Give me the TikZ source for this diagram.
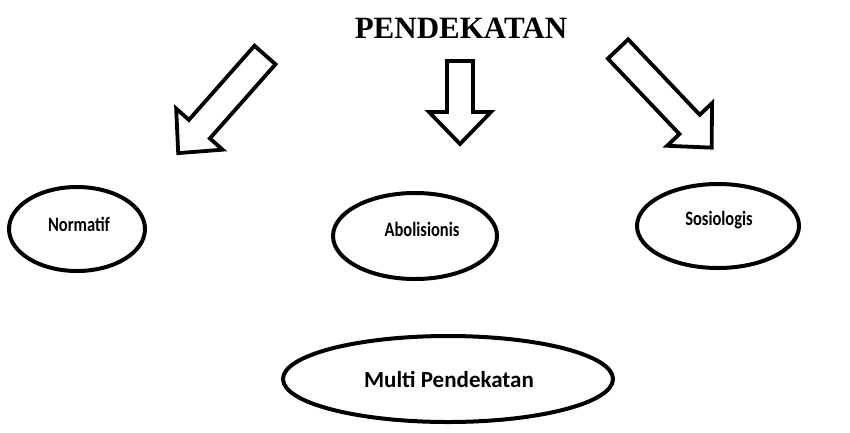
\documentclass[tikz,border=0pt]{standalone}
\usepackage{fontspec}
\setmainfont{Liberation Serif}
\newfontfamily\lblfont{Carlito}
\newcommand{\tallbox}[1]{\scalebox{0.97}[1.2]{#1}}
\begin{document}
\begin{tikzpicture}[x=1pt,y=-1pt,
  oval/.style={draw=black,line width=4pt},
  lbl/.style={font=\lblfont\bfseries\fontsize{17}{20}\selectfont},
  biglbl/.style={font=\lblfont\bfseries\fontsize{23}{26}\selectfont},
  blockarr/.style={draw=black,line width=3.8pt,line join=miter,fill=white}]
\useasboundingbox (0,0) rectangle (850,432);
\node[font=\bfseries\fontsize{31}{34}\selectfont] (title) at (461,28) {PENDEKATAN};
% ellipses
\draw[oval] (77,229) ellipse [x radius=68, y radius=42];
\node[lbl] (norm) at (79,224) {\tallbox{Normatif}};
\draw[oval] (415,236) ellipse [x radius=82, y radius=43];
\node[lbl] (abol) at (422,229) {\tallbox{Abolisionis}};
\draw[oval] (718,226) ellipse [x radius=81, y radius=42];
\node[lbl] (sosi) at (719,220) {\tallbox{Sosiologis}};
\draw[oval] (448,379) ellipse [x radius=165, y radius=43];
\node[biglbl] (multi) at (449,379) {Multi Pendekatan};
% block arrows: local frame, x along the arrow (tail at 0), y across
\begin{scope}[shift={(265,55)},rotate=-131.5]
  \draw[blockarr] (0,-14) -- (99,-14) -- (99,-31) -- (131,0) -- (99,31) -- (99,14) -- (0,14) -- cycle;
\end{scope}
\begin{scope}[shift={(460,61)},rotate=-90]
  \draw[blockarr] (0,-13) -- (51,-13) -- (51,-31) -- (83,0) -- (51,31) -- (51,13) -- (0,13) -- cycle;
\end{scope}
\begin{scope}[shift={(618,49)},rotate=-46.5]
  \draw[blockarr] (0,-14) -- (104,-14) -- (104,-31) -- (136,0) -- (104,31) -- (104,14) -- (0,14) -- cycle;
\end{scope}
\end{tikzpicture}
\end{document}
